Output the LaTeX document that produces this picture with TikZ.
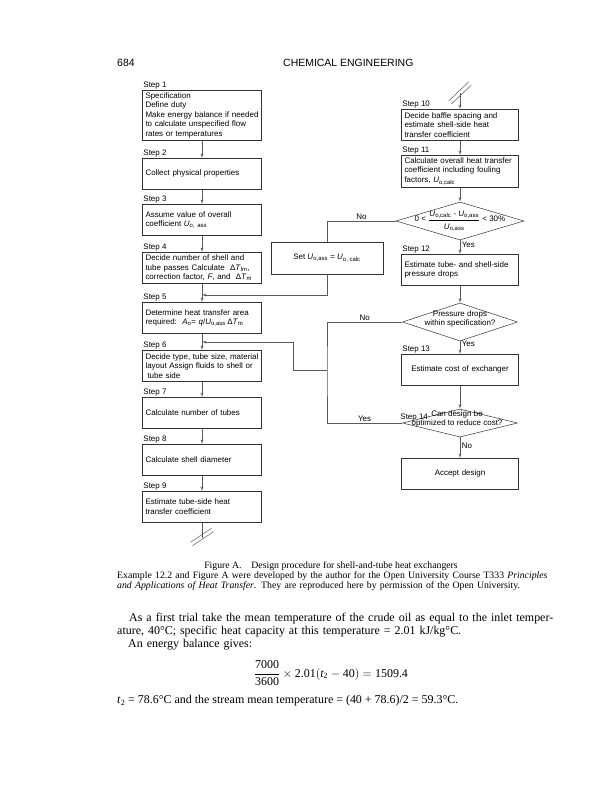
\documentclass[tikz,border=0pt]{standalone}
\usepackage{fontspec}
\setmainfont{Liberation Serif}
\setsansfont{Liberation Sans}
\usepackage{amsmath}
\usetikzlibrary{arrows,shapes.geometric}
\newcommand{\Uo}[1]{\textit{U}\textsubscript{o,#1}}

\begin{document}
\begin{tikzpicture}[x=1bp,y=-1bp,>=latex']
% Styles
\tikzstyle{box}=[draw=black!80, line width=0.5bp, rectangle, font=\sffamily\fontsize{8}{9.5}\selectfont, inner xsep=3bp, inner ysep=2.5bp, minimum height=31bp, anchor=north]
\tikzstyle{leftbox}=[box, text width=113bp, align=left]
\tikzstyle{rightbox}=[box, text width=111bp, align=left]
\tikzstyle{decision}=[draw=black!80, line width=0.5bp, diamond, inner sep=0pt]
\tikzstyle{flowtext}=[font=\sffamily\fontsize{8}{9.5}\selectfont, align=center, inner sep=0pt]
\tikzstyle{steplabel}=[font=\sffamily\fontsize{8}{9.5}\selectfont, inner sep=1bp, anchor=south west]
\tikzstyle{answer}=[font=\sffamily\fontsize{8}{9.5}\selectfont, inner sep=1.5bp]
\tikzstyle{line}=[draw=black!65, line width=0.5bp]
\tikzstyle{flow}=[line, ->]
\tikzstyle{headtext}=[font=\sffamily\fontsize{10.5}{12}\selectfont, inner sep=0pt]
\tikzstyle{captext}=[font=\fontsize{9.8}{10.2}\selectfont, inner sep=0pt]
\tikzstyle{bodytext}=[font=\fontsize{12}{13}\selectfont, inner sep=0pt]

\fill[white] (0,0) rectangle (612,800);
\useasboundingbox (0,0) rectangle (612,800);

% page head
\node[headtext, anchor=base west] (folio) at (117,67) {684};
\node[headtext, anchor=base west] (runhead) at (283,67) {CHEMICAL ENGINEERING};

% draw the left column
\node[leftbox] (b1) at (202,90) {Specification\\Define duty\\Make energy balance if needed\\to calculate unspecified flow\\rates or temperatures};
\node[leftbox] (b2) at (202,158) {Collect physical properties};
\node[leftbox] (b3) at (202,204) {Assume value of overall\\coefficient \textit{U}\textsubscript{o, ass}};
\node[leftbox] (b4) at (202,252) {Decide number of shell and\\tube passes Calculate\ \ Δ\textit{T}\textsubscript{lm},\\correction factor, \textit{F}, and\ \ Δ\textit{T}\textsubscript{m}};
\node[leftbox] (b5) at (202,302) {Determine heat transfer area\\required:\ \ \textit{A}\textsubscript{o}= \textit{q}/\Uo{ass}\,Δ\textit{T}\textsubscript{m}};
\node[leftbox] (b6) at (202,350) {Decide type, tube size, material\\layout Assign fluids to shell or\\\hspace*{2bp}tube side};
\node[leftbox] (b7) at (202,397) {Calculate number of tubes};
\node[leftbox] (b8) at (202,444) {Calculate shell diameter};
\node[leftbox] (b9) at (202,491) {Estimate tube-side heat\\transfer coefficient};

% draw the right column
\node[rightbox] (b10) at (460,109) {Decide baffle spacing and\\estimate shell-side heat\\transfer coefficient};
\node[rightbox] (b11) at (460,155) {Calculate overall heat transfer\\coefficient including fouling\\factors, \Uo{calc}};
\node[decision, minimum width=128bp, minimum height=38bp] (chk1) at (460,221) {};
\node[flowtext] (chk1txt) at (chk1) {0 <\ $\dfrac{\rule[-2.5bp]{0pt}{0pt}\text{\Uo{calc} - \Uo{ass}}}{\rule{0pt}{8.5bp}\text{\Uo{ass}}}$\ < 30\%};
\node[rightbox] (b12) at (460,254) {Estimate tube- and shell-side\\pressure drops};
\node[decision, minimum width=115bp, minimum height=38bp] (chk2) at (460,322) {};
\node[flowtext] (chk2txt) at ([yshift=3bp]chk2.center) {Pressure drops\\within specification?};
\node[rightbox, align=center] (b13) at (460,354) {Estimate cost of exchanger};
\node[decision, minimum width=115bp, minimum height=28bp] (chk3) at (460,423) {};
\node[flowtext] (chk3txt) at ([xshift=-3bp,yshift=4bp]chk3.center) {Can design be\\optimized to reduce cost?};
\node[rightbox, align=center] (accept) at (460,458) {Accept design};

% reset box
\node[box, anchor=center, minimum width=112bp, minimum height=32bp] (reset) at (327,258) {Set \Uo{ass} = \textit{U}\textsubscript{o, calc}};

% step labels
\foreach \n in {1,...,13} {
\node[steplabel] (s\n) at (b\n.north west) {Step \n};
}
\node[steplabel] (s14) at ([xshift=-3bp,yshift=1bp]chk3.west) {Step 14};

% connectors
\foreach \a/\b in {b1/b2,b2/b3,b3/b4,b4/b5,b5/b6,b6/b7,b7/b8,b8/b9,b10/b11,b11/chk1,b12/chk2,b13/chk3} {
\draw[flow] (\a.south) -- (\b.north);
}
\draw[flow] (chk1.south) -- node[answer, pos=0.35, right] {Yes} (b12.north);
\draw[flow] (chk2.south) -- node[answer, pos=0.2, right] {Yes} (b13.north);
\draw[flow] (chk3.south) -- node[answer, pos=0.4, right] {No} (accept.north);

% breaks
\coordinate (brk1) at ([yshift=-15bp]b9.south);
\draw[line] (b9.south) -- (brk1);
\draw[line] (brk1) ++(-9.4,8.2) -- ++(21,-14);
\draw[line] (brk1) ++(-11.6,4.8) -- ++(21,-14);
\coordinate (brk2) at ([yshift=16bp]b10.north);
\draw[flow] (brk2) -- (b10.north);
\draw[line] (brk2) ++(-8.6,11) -- ++(20,-19);
\draw[line] (brk2) ++(-11.4,8) -- ++(20,-19);

% loops back
\draw[line] (chk1.west) -| node[answer, pos=0.25, above] {No} (reset.north);
\coordinate (in5) at ([yshift=7bp]b5.north);
\draw[flow] (reset.south) |- (in5);
\coordinate (merge) at (327,370);
\draw[line] (chk2.west) -| node[answer, pos=0.25, above] {No} (merge) |- node[answer, pos=0.75, above] {Yes} (chk3.west);
\coordinate (in6) at ([yshift=8bp]b6.north);
\draw[flow] (merge) -- ++(-34,0) |- (in6);

% caption and text
\node[captext, anchor=base] (figcap) at (331,568) {Figure A.\quad Design procedure for shell-and-tube heat exchangers};
\node[captext, anchor=north west, text width=428bp, align=left] (credit) at (117,571) {\makebox[428bp][s]{Example 12.2 and Figure A were developed by the author for the Open University Course T333 \textit{Principles}}\\\textit{and Applications of Heat Transfer}. They are reproduced here by permission of the Open University.};
\node[bodytext, anchor=north west, text width=428bp, align=left] (para) at (117,613) {\hspace*{12bp}\makebox[416bp][s]{As a first trial take the mean temperature of the crude oil as equal to the inlet temper-}\\ature, 40°C; specific heat capacity at this temperature = 2.01 kJ/kg°C.\\\hspace*{11bp}An energy balance gives:};
\node[bodytext, anchor=base] (balance) at (331,677) {$\dfrac{\text{7000}}{\text{3600}}\times\text{2.01}(\textit{t}_{\text{2}}-\text{40})=\text{1509.4}$};
\node[bodytext, anchor=base west] (result) at (117,703.5) {\textit{t}\textsubscript{2} = 78.6°C and the stream mean temperature = (40 + 78.6)/2 = 59.3°C.};

\end{tikzpicture}
\end{document}
